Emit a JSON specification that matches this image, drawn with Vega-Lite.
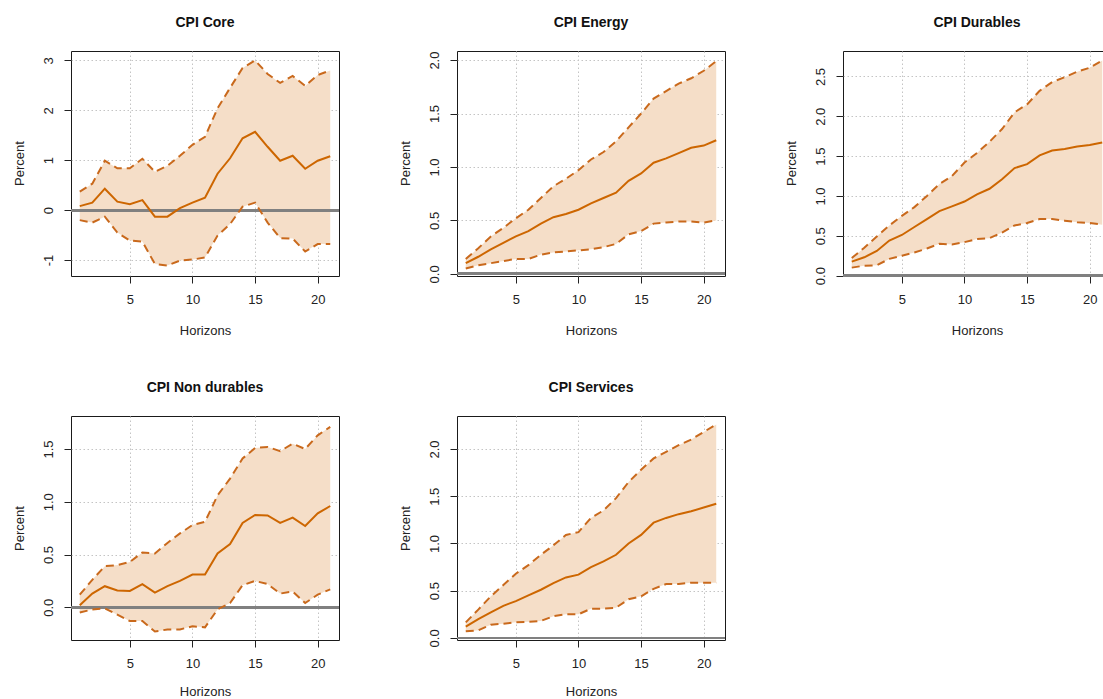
{
  "$schema": "https://vega.github.io/schema/vega-lite/v6.json",
  "autosize": {"type": "none"},
  "padding": {"left": 71, "top": 51, "right": 1032, "bottom": 648},
  "background": "white",
  "columns": 3,
  "spacing": {"row": 140, "column": 118},
  "bounds": "flush",
  "align": "all",
  "datasets": {
    "irf": [
      {"panel": "Core", "h": 1, "lo": -0.20, "mid": 0.08, "hi": 0.37},
      {"panel": "Core", "h": 2, "lo": -0.25, "mid": 0.15, "hi": 0.53},
      {"panel": "Core", "h": 3, "lo": -0.13, "mid": 0.43, "hi": 0.99},
      {"panel": "Core", "h": 4, "lo": -0.45, "mid": 0.17, "hi": 0.84},
      {"panel": "Core", "h": 5, "lo": -0.61, "mid": 0.12, "hi": 0.84},
      {"panel": "Core", "h": 6, "lo": -0.63, "mid": 0.20, "hi": 1.03},
      {"panel": "Core", "h": 7, "lo": -1.08, "mid": -0.13, "hi": 0.77},
      {"panel": "Core", "h": 8, "lo": -1.11, "mid": -0.13, "hi": 0.89},
      {"panel": "Core", "h": 9, "lo": -1.01, "mid": 0.04, "hi": 1.09},
      {"panel": "Core", "h": 10, "lo": -0.99, "mid": 0.15, "hi": 1.31},
      {"panel": "Core", "h": 11, "lo": -0.95, "mid": 0.25, "hi": 1.47},
      {"panel": "Core", "h": 12, "lo": -0.51, "mid": 0.73, "hi": 2.04},
      {"panel": "Core", "h": 13, "lo": -0.28, "mid": 1.04, "hi": 2.45},
      {"panel": "Core", "h": 14, "lo": 0.07, "mid": 1.44, "hi": 2.85},
      {"panel": "Core", "h": 15, "lo": 0.15, "mid": 1.57, "hi": 3.00},
      {"panel": "Core", "h": 16, "lo": -0.25, "mid": 1.27, "hi": 2.73},
      {"panel": "Core", "h": 17, "lo": -0.56, "mid": 0.99, "hi": 2.55},
      {"panel": "Core", "h": 18, "lo": -0.57, "mid": 1.09, "hi": 2.69},
      {"panel": "Core", "h": 19, "lo": -0.83, "mid": 0.83, "hi": 2.49},
      {"panel": "Core", "h": 20, "lo": -0.68, "mid": 0.99, "hi": 2.71},
      {"panel": "Core", "h": 21, "lo": -0.68, "mid": 1.08, "hi": 2.80},
      {"panel": "Energy", "h": 1, "lo": 0.05, "mid": 0.10, "hi": 0.14},
      {"panel": "Energy", "h": 2, "lo": 0.08, "mid": 0.16, "hi": 0.24},
      {"panel": "Energy", "h": 3, "lo": 0.10, "mid": 0.23, "hi": 0.35},
      {"panel": "Energy", "h": 4, "lo": 0.12, "mid": 0.29, "hi": 0.43},
      {"panel": "Energy", "h": 5, "lo": 0.14, "mid": 0.35, "hi": 0.52},
      {"panel": "Energy", "h": 6, "lo": 0.14, "mid": 0.40, "hi": 0.60},
      {"panel": "Energy", "h": 7, "lo": 0.18, "mid": 0.47, "hi": 0.71},
      {"panel": "Energy", "h": 8, "lo": 0.20, "mid": 0.53, "hi": 0.82},
      {"panel": "Energy", "h": 9, "lo": 0.21, "mid": 0.56, "hi": 0.89},
      {"panel": "Energy", "h": 10, "lo": 0.22, "mid": 0.60, "hi": 0.97},
      {"panel": "Energy", "h": 11, "lo": 0.23, "mid": 0.66, "hi": 1.07},
      {"panel": "Energy", "h": 12, "lo": 0.25, "mid": 0.71, "hi": 1.14},
      {"panel": "Energy", "h": 13, "lo": 0.28, "mid": 0.76, "hi": 1.24},
      {"panel": "Energy", "h": 14, "lo": 0.37, "mid": 0.87, "hi": 1.37},
      {"panel": "Energy", "h": 15, "lo": 0.40, "mid": 0.94, "hi": 1.50},
      {"panel": "Energy", "h": 16, "lo": 0.47, "mid": 1.04, "hi": 1.64},
      {"panel": "Energy", "h": 17, "lo": 0.48, "mid": 1.08, "hi": 1.71},
      {"panel": "Energy", "h": 18, "lo": 0.49, "mid": 1.13, "hi": 1.78},
      {"panel": "Energy", "h": 19, "lo": 0.49, "mid": 1.18, "hi": 1.83},
      {"panel": "Energy", "h": 20, "lo": 0.48, "mid": 1.20, "hi": 1.90},
      {"panel": "Energy", "h": 21, "lo": 0.50, "mid": 1.25, "hi": 1.99},
      {"panel": "Durables", "h": 1, "lo": 0.10, "mid": 0.175, "hi": 0.22},
      {"panel": "Durables", "h": 2, "lo": 0.125, "mid": 0.23, "hi": 0.35},
      {"panel": "Durables", "h": 3, "lo": 0.13, "mid": 0.31, "hi": 0.49},
      {"panel": "Durables", "h": 4, "lo": 0.21, "mid": 0.44, "hi": 0.63},
      {"panel": "Durables", "h": 5, "lo": 0.25, "mid": 0.51, "hi": 0.75},
      {"panel": "Durables", "h": 6, "lo": 0.29, "mid": 0.61, "hi": 0.86},
      {"panel": "Durables", "h": 7, "lo": 0.34, "mid": 0.71, "hi": 1.00},
      {"panel": "Durables", "h": 8, "lo": 0.40, "mid": 0.81, "hi": 1.15},
      {"panel": "Durables", "h": 9, "lo": 0.39, "mid": 0.87, "hi": 1.25},
      {"panel": "Durables", "h": 10, "lo": 0.42, "mid": 0.93, "hi": 1.42},
      {"panel": "Durables", "h": 11, "lo": 0.46, "mid": 1.02, "hi": 1.54},
      {"panel": "Durables", "h": 12, "lo": 0.47, "mid": 1.09, "hi": 1.68},
      {"panel": "Durables", "h": 13, "lo": 0.54, "mid": 1.21, "hi": 1.84},
      {"panel": "Durables", "h": 14, "lo": 0.63, "mid": 1.35, "hi": 2.05},
      {"panel": "Durables", "h": 15, "lo": 0.66, "mid": 1.40, "hi": 2.15},
      {"panel": "Durables", "h": 16, "lo": 0.71, "mid": 1.51, "hi": 2.32},
      {"panel": "Durables", "h": 17, "lo": 0.71, "mid": 1.57, "hi": 2.43},
      {"panel": "Durables", "h": 18, "lo": 0.69, "mid": 1.59, "hi": 2.49},
      {"panel": "Durables", "h": 19, "lo": 0.67, "mid": 1.62, "hi": 2.56},
      {"panel": "Durables", "h": 20, "lo": 0.66, "mid": 1.64, "hi": 2.61},
      {"panel": "Durables", "h": 21, "lo": 0.64, "mid": 1.67, "hi": 2.70},
      {"panel": "Nondurables", "h": 1, "lo": -0.05, "mid": 0.02, "hi": 0.12},
      {"panel": "Nondurables", "h": 2, "lo": -0.02, "mid": 0.13, "hi": 0.26},
      {"panel": "Nondurables", "h": 3, "lo": -0.01, "mid": 0.20, "hi": 0.39},
      {"panel": "Nondurables", "h": 4, "lo": -0.07, "mid": 0.16, "hi": 0.40},
      {"panel": "Nondurables", "h": 5, "lo": -0.13, "mid": 0.155, "hi": 0.43},
      {"panel": "Nondurables", "h": 6, "lo": -0.13, "mid": 0.22, "hi": 0.52},
      {"panel": "Nondurables", "h": 7, "lo": -0.23, "mid": 0.14, "hi": 0.51},
      {"panel": "Nondurables", "h": 8, "lo": -0.21, "mid": 0.20, "hi": 0.61},
      {"panel": "Nondurables", "h": 9, "lo": -0.21, "mid": 0.25, "hi": 0.70},
      {"panel": "Nondurables", "h": 10, "lo": -0.18, "mid": 0.31, "hi": 0.78},
      {"panel": "Nondurables", "h": 11, "lo": -0.19, "mid": 0.31, "hi": 0.81},
      {"panel": "Nondurables", "h": 12, "lo": -0.02, "mid": 0.51, "hi": 1.06},
      {"panel": "Nondurables", "h": 13, "lo": 0.04, "mid": 0.60, "hi": 1.22},
      {"panel": "Nondurables", "h": 14, "lo": 0.21, "mid": 0.80, "hi": 1.41},
      {"panel": "Nondurables", "h": 15, "lo": 0.25, "mid": 0.875, "hi": 1.51},
      {"panel": "Nondurables", "h": 16, "lo": 0.22, "mid": 0.87, "hi": 1.52},
      {"panel": "Nondurables", "h": 17, "lo": 0.13, "mid": 0.80, "hi": 1.48},
      {"panel": "Nondurables", "h": 18, "lo": 0.15, "mid": 0.85, "hi": 1.55},
      {"panel": "Nondurables", "h": 19, "lo": 0.04, "mid": 0.77, "hi": 1.50},
      {"panel": "Nondurables", "h": 20, "lo": 0.12, "mid": 0.89, "hi": 1.63},
      {"panel": "Nondurables", "h": 21, "lo": 0.17, "mid": 0.96, "hi": 1.71},
      {"panel": "Services", "h": 1, "lo": 0.07, "mid": 0.12, "hi": 0.165},
      {"panel": "Services", "h": 2, "lo": 0.08, "mid": 0.20, "hi": 0.30},
      {"panel": "Services", "h": 3, "lo": 0.14, "mid": 0.27, "hi": 0.44},
      {"panel": "Services", "h": 4, "lo": 0.15, "mid": 0.34, "hi": 0.56},
      {"panel": "Services", "h": 5, "lo": 0.165, "mid": 0.39, "hi": 0.68},
      {"panel": "Services", "h": 6, "lo": 0.17, "mid": 0.45, "hi": 0.77},
      {"panel": "Services", "h": 7, "lo": 0.18, "mid": 0.51, "hi": 0.88},
      {"panel": "Services", "h": 8, "lo": 0.23, "mid": 0.58, "hi": 0.98},
      {"panel": "Services", "h": 9, "lo": 0.25, "mid": 0.64, "hi": 1.09},
      {"panel": "Services", "h": 10, "lo": 0.25, "mid": 0.67, "hi": 1.12},
      {"panel": "Services", "h": 11, "lo": 0.31, "mid": 0.75, "hi": 1.27},
      {"panel": "Services", "h": 12, "lo": 0.31, "mid": 0.81, "hi": 1.35},
      {"panel": "Services", "h": 13, "lo": 0.32, "mid": 0.88, "hi": 1.48},
      {"panel": "Services", "h": 14, "lo": 0.41, "mid": 1.00, "hi": 1.65},
      {"panel": "Services", "h": 15, "lo": 0.44, "mid": 1.09, "hi": 1.78},
      {"panel": "Services", "h": 16, "lo": 0.52, "mid": 1.22, "hi": 1.90},
      {"panel": "Services", "h": 17, "lo": 0.57, "mid": 1.27, "hi": 1.97},
      {"panel": "Services", "h": 18, "lo": 0.57, "mid": 1.31, "hi": 2.04},
      {"panel": "Services", "h": 19, "lo": 0.585, "mid": 1.34, "hi": 2.10},
      {"panel": "Services", "h": 20, "lo": 0.585, "mid": 1.38, "hi": 2.18},
      {"panel": "Services", "h": 21, "lo": 0.585, "mid": 1.42, "hi": 2.26}
    ]
  },
  "concat": [
    {
      "title": "CPI Core",
      "width": 268, "height": 225,
      "data": {"name": "irf"},
      "transform": [{"filter": "datum.panel === 'Core'"}],
      "layer": [
        {"mark": {"type": "area", "color": "#F5DEC8", "clip": true},
         "encoding": {
           "x": {"field": "h", "type": "quantitative", "title": "Horizons", "scale": {"domain": [0.3, 21.7], "nice": false, "zero": false}, "axis": {"values": [5, 10, 15, 20], "titleX": 134, "titleY": 54}},
           "y": {"field": "lo", "type": "quantitative", "title": "Percent", "scale": {"domain": [-1.32, 3.19], "nice": false, "zero": false}, "axis": {"values": [-1, 0, 1, 2, 3], "labelExpr": "datum.value + ''", "titleX": -52, "titleY": 112}},
           "y2": {"field": "hi"}}},
        {"mark": {"type": "rule", "color": "#808080", "strokeWidth": 2}, "encoding": {"y": {"datum": 0}}},
        {"mark": {"type": "line", "color": "#C9691C", "strokeWidth": 2, "strokeDash": [8, 5], "clip": true}, "encoding": {"x": {"field": "h", "type": "quantitative"}, "y": {"field": "hi", "type": "quantitative"}}},
        {"mark": {"type": "line", "color": "#C9691C", "strokeWidth": 2, "strokeDash": [8, 5], "clip": true}, "encoding": {"x": {"field": "h", "type": "quantitative"}, "y": {"field": "lo", "type": "quantitative"}}},
        {"mark": {"type": "line", "color": "#CD6600", "strokeWidth": 2, "clip": true}, "encoding": {"x": {"field": "h", "type": "quantitative"}, "y": {"field": "mid", "type": "quantitative"}}}
      ]
    },
    {
      "title": "CPI Energy",
      "width": 268, "height": 225,
      "data": {"name": "irf"},
      "transform": [{"filter": "datum.panel === 'Energy'"}],
      "layer": [
        {"mark": {"type": "area", "color": "#F5DEC8", "clip": true},
         "encoding": {
           "x": {"field": "h", "type": "quantitative", "title": "Horizons", "scale": {"domain": [0.3, 21.7], "nice": false, "zero": false}, "axis": {"values": [5, 10, 15, 20], "titleX": 134, "titleY": 54}},
           "y": {"field": "lo", "type": "quantitative", "title": "Percent", "scale": {"domain": [-0.02, 2.085], "nice": false, "zero": false}, "axis": {"values": [0, 0.5, 1, 1.5, 2], "labelExpr": "format(datum.value, '.1f')", "titleX": -52, "titleY": 112}},
           "y2": {"field": "hi"}}},
        {"mark": {"type": "rule", "color": "#808080", "strokeWidth": 2}, "encoding": {"y": {"datum": 0}}},
        {"mark": {"type": "line", "color": "#C9691C", "strokeWidth": 2, "strokeDash": [8, 5], "clip": true}, "encoding": {"x": {"field": "h", "type": "quantitative"}, "y": {"field": "hi", "type": "quantitative"}}},
        {"mark": {"type": "line", "color": "#C9691C", "strokeWidth": 2, "strokeDash": [8, 5], "clip": true}, "encoding": {"x": {"field": "h", "type": "quantitative"}, "y": {"field": "lo", "type": "quantitative"}}},
        {"mark": {"type": "line", "color": "#CD6600", "strokeWidth": 2, "clip": true}, "encoding": {"x": {"field": "h", "type": "quantitative"}, "y": {"field": "mid", "type": "quantitative"}}}
      ]
    },
    {
      "title": "CPI Durables",
      "width": 268, "height": 225,
      "data": {"name": "irf"},
      "transform": [{"filter": "datum.panel === 'Durables'"}],
      "layer": [
        {"mark": {"type": "area", "color": "#F5DEC8", "clip": true},
         "encoding": {
           "x": {"field": "h", "type": "quantitative", "title": "Horizons", "scale": {"domain": [0.3, 21.7], "nice": false, "zero": false}, "axis": {"values": [5, 10, 15, 20], "titleX": 134, "titleY": 54}},
           "y": {"field": "lo", "type": "quantitative", "title": "Percent", "scale": {"domain": [-0.005, 2.82], "nice": false, "zero": false}, "axis": {"values": [0, 0.5, 1, 1.5, 2, 2.5], "labelExpr": "format(datum.value, '.1f')", "titleX": -52, "titleY": 112}},
           "y2": {"field": "hi"}}},
        {"mark": {"type": "rule", "color": "#808080", "strokeWidth": 2}, "encoding": {"y": {"datum": 0}}},
        {"mark": {"type": "line", "color": "#C9691C", "strokeWidth": 2, "strokeDash": [8, 5], "clip": true}, "encoding": {"x": {"field": "h", "type": "quantitative"}, "y": {"field": "hi", "type": "quantitative"}}},
        {"mark": {"type": "line", "color": "#C9691C", "strokeWidth": 2, "strokeDash": [8, 5], "clip": true}, "encoding": {"x": {"field": "h", "type": "quantitative"}, "y": {"field": "lo", "type": "quantitative"}}},
        {"mark": {"type": "line", "color": "#CD6600", "strokeWidth": 2, "clip": true}, "encoding": {"x": {"field": "h", "type": "quantitative"}, "y": {"field": "mid", "type": "quantitative"}}}
      ]
    },
    {
      "title": "CPI Non durables",
      "width": 268, "height": 224,
      "data": {"name": "irf"},
      "transform": [{"filter": "datum.panel === 'Nondurables'"}],
      "layer": [
        {"mark": {"type": "area", "color": "#F5DEC8", "clip": true},
         "encoding": {
           "x": {"field": "h", "type": "quantitative", "title": "Horizons", "scale": {"domain": [0.3, 21.7], "nice": false, "zero": false}, "axis": {"values": [5, 10, 15, 20], "titleX": 134, "titleY": 51}},
           "y": {"field": "lo", "type": "quantitative", "title": "Percent", "scale": {"domain": [-0.31, 1.813], "nice": false, "zero": false}, "axis": {"values": [0, 0.5, 1, 1.5], "labelExpr": "format(datum.value, '.1f')", "titleX": -52, "titleY": 112}},
           "y2": {"field": "hi"}}},
        {"mark": {"type": "rule", "color": "#808080", "strokeWidth": 2}, "encoding": {"y": {"datum": 0}}},
        {"mark": {"type": "line", "color": "#C9691C", "strokeWidth": 2, "strokeDash": [8, 5], "clip": true}, "encoding": {"x": {"field": "h", "type": "quantitative"}, "y": {"field": "hi", "type": "quantitative"}}},
        {"mark": {"type": "line", "color": "#C9691C", "strokeWidth": 2, "strokeDash": [8, 5], "clip": true}, "encoding": {"x": {"field": "h", "type": "quantitative"}, "y": {"field": "lo", "type": "quantitative"}}},
        {"mark": {"type": "line", "color": "#CD6600", "strokeWidth": 2, "clip": true}, "encoding": {"x": {"field": "h", "type": "quantitative"}, "y": {"field": "mid", "type": "quantitative"}}}
      ]
    },
    {
      "title": "CPI Services",
      "width": 268, "height": 224,
      "data": {"name": "irf"},
      "transform": [{"filter": "datum.panel === 'Services'"}],
      "layer": [
        {"mark": {"type": "area", "color": "#F5DEC8", "clip": true},
         "encoding": {
           "x": {"field": "h", "type": "quantitative", "title": "Horizons", "scale": {"domain": [0.3, 21.7], "nice": false, "zero": false}, "axis": {"values": [5, 10, 15, 20], "titleX": 134, "titleY": 51}},
           "y": {"field": "lo", "type": "quantitative", "title": "Percent", "scale": {"domain": [-0.022, 2.349], "nice": false, "zero": false}, "axis": {"values": [0, 0.5, 1, 1.5, 2], "labelExpr": "format(datum.value, '.1f')", "titleX": -52, "titleY": 112}},
           "y2": {"field": "hi"}}},
        {"mark": {"type": "rule", "color": "#808080", "strokeWidth": 2}, "encoding": {"y": {"datum": 0}}},
        {"mark": {"type": "line", "color": "#C9691C", "strokeWidth": 2, "strokeDash": [8, 5], "clip": true}, "encoding": {"x": {"field": "h", "type": "quantitative"}, "y": {"field": "hi", "type": "quantitative"}}},
        {"mark": {"type": "line", "color": "#C9691C", "strokeWidth": 2, "strokeDash": [8, 5], "clip": true}, "encoding": {"x": {"field": "h", "type": "quantitative"}, "y": {"field": "lo", "type": "quantitative"}}},
        {"mark": {"type": "line", "color": "#CD6600", "strokeWidth": 2, "clip": true}, "encoding": {"x": {"field": "h", "type": "quantitative"}, "y": {"field": "mid", "type": "quantitative"}}}
      ]
    }
  ],
  "config": {
    "font": "Liberation Sans",
    "view": {"stroke": "#1a1a1a", "strokeWidth": 1},
    "title": {"font": "Liberation Sans", "fontSize": 14, "fontWeight": "bold", "color": "#111111", "offset": 21, "frame": "group", "anchor": "middle"},
    "axis": {
      "labelFont": "Liberation Sans", "labelFontSize": 13, "labelColor": "#222222",
      "titleFont": "Liberation Sans", "titleFontSize": 13, "titleFontWeight": "normal", "titleColor": "#222222",
      "titleBaseline": "middle", "titleAlign": "center",
      "tickColor": "#222222", "tickSize": 7, "tickWidth": 1,
      "domain": false,
      "grid": true, "gridColor": "#c4c4c4", "gridDash": [1.5, 2.5], "gridWidth": 1,
      "labelOverlap": false, "labelFlush": false, "labelBound": false,
      "zindex": 1
    },
    "axisX": {"labelAngle": 0, "labelPadding": 10, "labelAlign": "center", "labelBaseline": "top", "titleAngle": 0},
    "axisY": {"labelAngle": 270, "labelPadding": 9, "labelAlign": "center", "labelBaseline": "bottom", "titleAngle": 270}
  }
}
